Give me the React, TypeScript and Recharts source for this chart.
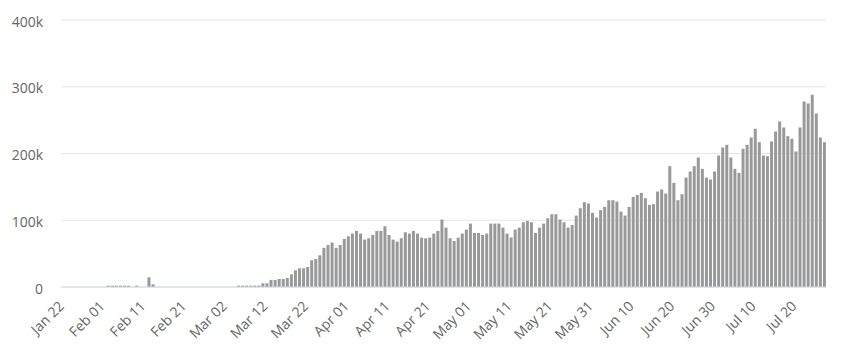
import React from 'react';
import { BarChart, Bar, XAxis, YAxis, CartesianGrid } from 'recharts';

const MONTHS = ['Jan', 'Feb', 'Mar', 'Apr', 'May', 'Jun', 'Jul'];
const FIRST_DAY = [22, 1, 1, 1, 1, 1, 1];

const janCases = [0, 0, 0, 0, 0, 0, 0, 0, 0, 0];
const febCases = [
  0, 2000, 2000, 2000, 2000, 2000, 2000, 0, 2000, 0,
  0, 14500, 4000, 0, 0, 0, 0, 0, 0, 0,
  0, 0, 0, 0, 0, 0, 0, 0, 0,
];
const marCases = [
  0, 0, 0, 0, 2000, 2000, 2000, 2000, 2000, 2000,
  5500, 5500, 10600, 10600, 12000, 12000, 13600, 19000, 25000, 28000,
  28000, 30000, 40000, 42000, 47500, 58600, 63000, 66600, 58600, 63000,
  72000,
];
const aprCases = [
  76000, 80000, 84000, 80000, 71000, 73000, 78000, 84000, 84000, 91000,
  78000, 71000, 68000, 73000, 82000, 80000, 84000, 80000, 74000, 73000,
  74000, 80000, 84000, 101000, 89000, 73000, 69000, 74000, 80000, 86000,
];
const mayCases = [
  95000, 81000, 81000, 78000, 80000, 95000, 95000, 95000, 89000, 80000,
  74000, 86000, 89000, 97000, 99000, 97000, 81000, 89000, 95000, 103000,
  109000, 109000, 101000, 97000, 89000, 93000, 107000, 118000, 127000, 125000,
  111000,
];
const junCases = [
  104000, 115000, 120000, 130000, 130000, 128000, 113000, 107000, 120000, 135000,
  138000, 141000, 133000, 123000, 124000, 143000, 146000, 140000, 181000, 156000,
  130000, 139000, 164000, 173000, 181000, 194000, 177000, 164000, 161000, 173000,
];
const julCases = [
  197000, 209000, 213000, 194000, 177000, 171000, 207000, 213000, 224000, 237000,
  217000, 197000, 196000, 218000, 233000, 248000, 239000, 226000, 222000, 203000,
  239000, 278000, 275000, 288000, 260000, 224000, 217000,
];

const monthCases = [janCases, febCases, marCases, aprCases, mayCases, junCases, julCases];

const Y_TICKS = [0, 100000, 200000, 300000, 400000];

const data = monthCases.flatMap((vals, m) =>
  vals.map((v, i) => ({
    date: `${MONTHS[m]} ${String(FIRST_DAY[m] + i).padStart(2, '0')}`,
    cases: v,
  }))
);

const FONT = '"Open Sans", "DejaVu Sans", sans-serif';

const formatY = (v: number) => (v === 0 ? '0' : `${v / 1000}k`);

const XTick = (props: any) => {
  const { x, y, payload } = props;
  const ax = x + 2;
  return (
    <text
      x={ax}
      y={y}
      transform={`rotate(-45, ${ax}, ${y})`}
      textAnchor="end"
      fill="#666666"
      fontSize={14}
      fontFamily={FONT}
    >
      {payload.value}
    </text>
  );
};

const YTick = (props: any) => {
  const { x, y, payload } = props;
  return (
    <text x={x} y={y + 6.5} textAnchor="end" fill="#666666" fontSize={14} fontFamily={FONT}>
      {formatY(payload.value)}
    </text>
  );
};

export default function App() {
  return (
    <div style={{ position: 'absolute', left: 0, top: 0, width: 846, height: 350, background: '#fff' }}>
      <BarChart
        width={846}
        height={350}
        data={data}
        margin={{ top: 20, right: 20, bottom: 0, left: 0 }}
      >
        <CartesianGrid vertical={false} stroke="#e6e6e6" />
        <XAxis
          dataKey="date"
          interval={9}
          height={63}
          tickLine={false}
          tickSize={0}
          tickMargin={20}
          axisLine={{ stroke: '#ccd6eb' }}
          tick={XTick}
        />
        <YAxis
          width={61}
          domain={[0, 400000]}
          ticks={Y_TICKS}
          axisLine={false}
          tickLine={false}
          tickSize={0}
          tickMargin={18}
          tick={YTick}
        />
        <Bar dataKey="cases" fill="#999999" barSize={3} isAnimationActive={false} />
      </BarChart>
    </div>
  );
}
